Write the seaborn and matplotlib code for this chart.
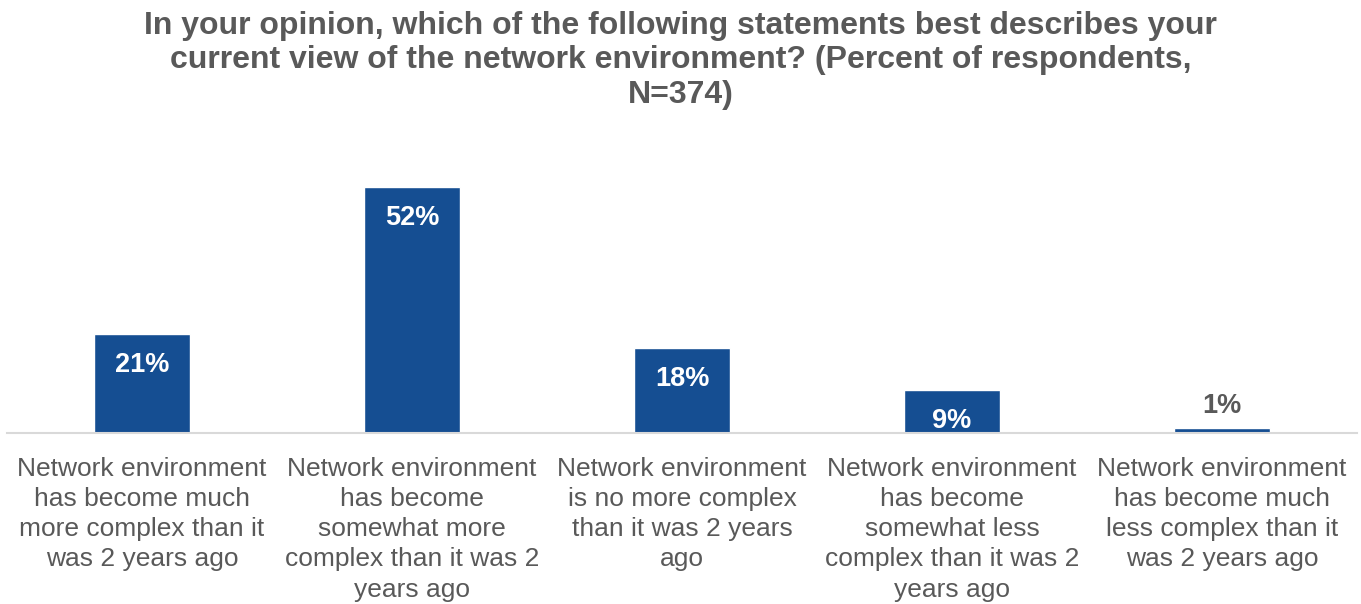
import matplotlib
matplotlib.use("Agg")
import matplotlib.pyplot as plt
import seaborn as sns
import pandas as pd

categories = [
    "Network environment\nhas become much\nmore complex than it\nwas 2 years ago",
    "Network environment\nhas become\nsomewhat more\ncomplex than it was 2\nyears ago",
    "Network environment\nis no more complex\nthan it was 2 years\nago",
    "Network environment\nhas become\nsomewhat less\ncomplex than it was 2\nyears ago",
    "Network environment\nhas become much\nless complex than it\nwas 2 years ago",
]
values = [21, 52, 18, 9, 1]
value_labels = ["21%", "52%", "18%", "9%", "1%"]

title = ("In your opinion, which of the following statements best describes your\n"
         "current view of the network environment? (Percent of respondents,\n"
         "N=374)")

BAR = "#154E92"
GREY = "#595959"

sns.set_theme(style="white")
plt.rcParams["font.family"] = ["Liberation Sans", "DejaVu Sans"]

fig = plt.figure(figsize=(13.61, 6.04), dpi=100)
ax = fig.add_axes([7 / 1361, 171 / 604, 1350 / 1361, 284 / 604])

df = pd.DataFrame({"cat": categories, "val": values})
sns.barplot(data=df, x="cat", y="val", color=BAR, saturation=1, width=0.356, ax=ax)

ax.set_ylim(0, 60)
ax.set_xlim(-0.5, len(categories) - 0.5)
ax.set_xlabel("")
ax.set_ylabel("")
ax.set_yticks([])
for s in ["top", "left", "right"]:
    ax.spines[s].set_visible(False)
ax.spines["bottom"].set_color("#D9D9D9")
ax.spines["bottom"].set_linewidth(1.5)
ax.tick_params(axis="x", length=0, pad=17)
for lbl in ax.get_xticklabels():
    lbl.set_fontsize(19)
    lbl.set_color(GREY)
    lbl.set_linespacing(1.33)

for i, (v, t) in enumerate(zip(values, value_labels)):
    if v >= 5:
        ax.annotate(t, (i, v), xytext=(0, -31), textcoords="offset pixels",
                    ha="center", va="center", fontsize=19.5, fontweight="bold",
                    color="white")
    else:
        ax.annotate(t, (i, v), xytext=(0, 22), textcoords="offset pixels",
                    ha="center", va="center", fontsize=19.5, fontweight="bold",
                    color=GREY)

fig.text(0.5, 1 - 11 / 604, title, ha="center", va="top", fontsize=23,
         fontweight="bold", color=GREY, linespacing=1.19)

fig.savefig("out.png", dpi=100)
